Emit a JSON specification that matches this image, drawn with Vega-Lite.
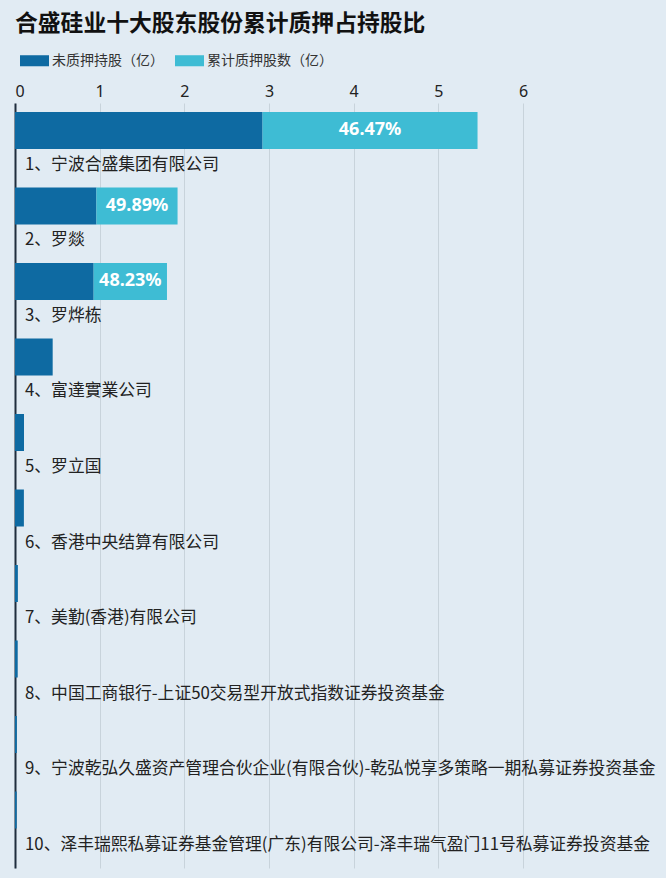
{
  "$schema": "https://vega.github.io/schema/vega-lite/v6.json",
  "width": 635,
  "height": 765,
  "autosize": {"type": "none"},
  "padding": {"left": 15, "top": 103, "right": 16, "bottom": 10},
  "background": "#e1ebf3",
  "title": {
    "text": "合盛硅业十大股东股份累计质押占持股比",
    "anchor": "start",
    "frame": "group",
    "font": "Noto Sans CJK SC",
    "fontSize": 22.8,
    "fontWeight": "bold",
    "color": "#111111",
    "offset": 10
  },
  "config": {
    "view": {"stroke": null},
    "font": "Noto Sans CJK SC"
  },
  "data": {
    "values": [
      {"label": "1、宁波合盛集团有限公司", "series": "未质押持股（亿）", "ord": 1, "value": 2.924, "pct": ""},
      {"label": "1、宁波合盛集团有限公司", "series": "累计质押股数（亿）", "ord": 2, "value": 2.539, "pct": "46.47%"},
      {"label": "2、罗燚", "series": "未质押持股（亿）", "ord": 1, "value": 0.962, "pct": ""},
      {"label": "2、罗燚", "series": "累计质押股数（亿）", "ord": 2, "value": 0.958, "pct": "49.89%"},
      {"label": "3、罗烨栋", "series": "未质押持股（亿）", "ord": 1, "value": 0.929, "pct": ""},
      {"label": "3、罗烨栋", "series": "累计质押股数（亿）", "ord": 2, "value": 0.866, "pct": "48.23%"},
      {"label": "4、富達實業公司", "series": "未质押持股（亿）", "ord": 1, "value": 0.445, "pct": ""},
      {"label": "5、罗立国", "series": "未质押持股（亿）", "ord": 1, "value": 0.106, "pct": ""},
      {"label": "6、香港中央结算有限公司", "series": "未质押持股（亿）", "ord": 1, "value": 0.105, "pct": ""},
      {"label": "7、美勤(香港)有限公司", "series": "未质押持股（亿）", "ord": 1, "value": 0.034, "pct": ""},
      {"label": "8、中国工商银行-上证50交易型开放式指数证券投资基金", "series": "未质押持股（亿）", "ord": 1, "value": 0.032, "pct": ""},
      {"label": "9、宁波乾弘久盛资产管理合伙企业(有限合伙)-乾弘悦享多策略一期私募证券投资基金", "series": "未质押持股（亿）", "ord": 1, "value": 0.022, "pct": ""},
      {"label": "10、泽丰瑞熙私募证券基金管理(广东)有限公司-泽丰瑞气盈门11号私募证券投资基金", "series": "未质押持股（亿）", "ord": 1, "value": 0.02, "pct": ""}
    ]
  },
  "encoding": {
    "y": {
      "field": "label",
      "type": "nominal",
      "scale": {
        "domain": [
          "1、宁波合盛集团有限公司",
          "2、罗燚",
          "3、罗烨栋",
          "4、富達實業公司",
          "5、罗立国",
          "6、香港中央结算有限公司",
          "7、美勤(香港)有限公司",
          "8、中国工商银行-上证50交易型开放式指数证券投资基金",
          "9、宁波乾弘久盛资产管理合伙企业(有限合伙)-乾弘悦享多策略一期私募证券投资基金",
          "10、泽丰瑞熙私募证券基金管理(广东)有限公司-泽丰瑞气盈门11号私募证券投资基金"
        ],
        "paddingInner": 0,
        "paddingOuter": 0.066
      },
      "axis": {
        "title": null,
        "labels": false,
        "ticks": false,
        "grid": false,
        "domain": true,
        "domainColor": "#1f2d3d",
        "domainWidth": 2
      }
    }
  },
  "layer": [
    {
      "mark": {"type": "bar", "height": 37, "yOffset": -15.25},
      "encoding": {
        "x": {
          "field": "value",
          "type": "quantitative",
          "stack": "zero",
          "scale": {"domain": [0, 7.5], "nice": false, "zero": true},
          "axis": {
            "orient": "top",
            "title": null,
            "values": [0, 1, 2, 3, 4, 5, 6],
            "format": "d",
            "grid": true,
            "gridColor": "#c8d3db",
            "gridWidth": 1,
            "domain": false,
            "ticks": false,
            "labelFontSize": 16,
            "labelColor": "#222222",
            "labelPadding": 4,
            "labelFont": "Noto Sans"
          }
        },
        "order": {"field": "ord", "type": "quantitative"},
        "color": {
          "field": "series",
          "type": "nominal",
          "scale": {
            "domain": ["未质押持股（亿）", "累计质押股数（亿）"],
            "range": ["#0e6aa2", "#3ebcd4"]
          },
          "legend": {
            "title": null,
            "orient": "none",
            "direction": "horizontal",
            "legendX": 5,
            "legendY": -57,
            "padding": 0,
            "symbolType": "M-1,-0.38H1V0.38H-1Z",
            "symbolSize": 841,
            "symbolStrokeWidth": 0,
            "labelFontSize": 14,
            "labelColor": "#333333",
            "labelFont": "Noto Sans CJK SC",
            "labelOffset": 3,
            "columnPadding": 11
          }
        }
      }
    },
    {
      "mark": {
        "type": "text",
        "color": "white",
        "fontSize": 18,
        "fontWeight": "bold",
        "font": "Noto Sans",
        "align": "center",
        "baseline": "middle",
        "yOffset": -15.25
      },
      "encoding": {
        "x": {"field": "value", "type": "quantitative", "stack": "zero", "bandPosition": 0.5},
        "order": {"field": "ord", "type": "quantitative"},
        "text": {"field": "pct", "type": "nominal"}
      }
    },
    {
      "transform": [{"filter": "datum.ord === 1"}],
      "mark": {
        "type": "text",
        "color": "#222222",
        "fontSize": 16.8,
        "font": "Noto Sans CJK SC",
        "align": "left",
        "baseline": "middle",
        "dx": 10,
        "dy": 19.25
      },
      "encoding": {
        "x": {"datum": 0, "type": "quantitative"},
        "text": {"field": "label", "type": "nominal"}
      }
    }
  ]
}
